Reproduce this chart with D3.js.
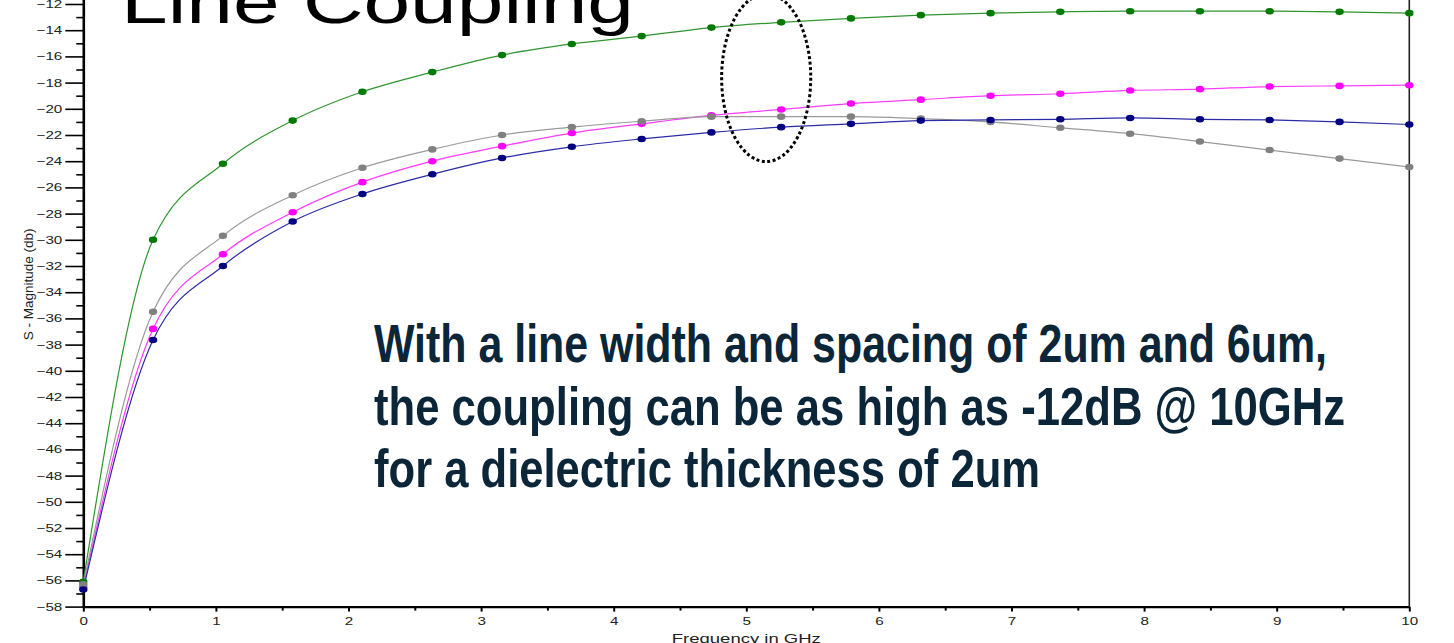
<!DOCTYPE html>
<html>
<head>
<meta charset="utf-8">
<script src="https://cdn.jsdelivr.net/npm/d3@7"></script>
<style>
  html, body { margin: 0; padding: 0; background: #ffffff; overflow: hidden; }
  svg { display: block; }
</style>
</head>
<body>
<svg id="chart" width="1454" height="643"></svg>
<script>
// ---------------- DATA ----------------
const frequencies = [0, 0.526, 1.053, 1.579, 2.105, 2.632, 3.158, 3.684, 4.211, 4.737,
                     5.263, 5.789, 6.316, 6.842, 7.368, 7.895, 8.421, 8.947, 9.474, 10];
const seriesGreen   = [-56.1, -30.0, -24.2, -20.9, -18.7, -17.2, -15.9, -15.05, -14.45, -13.8,
                       -13.4, -13.1, -12.85, -12.7, -12.6, -12.55, -12.55, -12.55, -12.6, -12.7];
const seriesMagenta = [-56.5, -36.8, -31.1, -27.9, -25.6, -24.0, -22.85, -21.85, -21.15, -20.5,
                       -20.05, -19.6, -19.3, -19.0, -18.85, -18.6, -18.5, -18.3, -18.25, -18.2];
const seriesGrey    = [-56.3, -35.5, -29.7, -26.6, -24.5, -23.1, -22.0, -21.4, -20.95, -20.6,
                       -20.6, -20.6, -20.75, -21.0, -21.45, -21.9, -22.5, -23.15, -23.8, -24.45];
const seriesBlue    = [-56.7, -37.65, -32.0, -28.6, -26.5, -25.0, -23.75, -22.9, -22.3, -21.8,
                       -21.4, -21.15, -20.9, -20.85, -20.8, -20.7, -20.8, -20.85, -21.0, -21.2];

const xTickValues  = [0, 1, 2, 3, 4, 5, 6, 7, 8, 9, 10];
const xMinorTicks  = [0.5, 1.5, 2.5, 3.5, 4.5, 5.5, 6.5, 7.5, 8.5, 9.5];
const yTickValues  = [-58, -56, -54, -52, -50, -48, -46, -44, -42, -40, -38, -36, -34, -32,
                      -30, -28, -26, -24, -22, -20, -18, -16, -14, -12];
const yMinorTicks  = [-57, -55, -53, -51, -49, -47, -45, -43, -41, -39, -37, -35, -33, -31,
                      -29, -27, -25, -23, -21, -19, -17, -15, -13, -11];

const titleText = "Line Coupling";
const xAxisTitle = "Frequency in GHz";
const yAxisTitle = "S - Magnitude (db)";
const noteLines = [
  "With a line width and spacing of 2um and 6um,",
  "the coupling can be as high as -12dB @ 10GHz",
  "for a dielectric thickness of 2um"
];
// highlighted region (data units): centre frequency, centre dB, half-width GHz, half-height dB
const highlight = { f: 5.15, db: -17.63, df: 0.336, ddb: 6.4 };

// ---------------- LAYOUT ----------------
const svg = d3.select("#chart");
const x = d3.scaleLinear().domain([0, 10]).range([83.3, 1409.3]);
const y = d3.scaleLinear().domain([-58, -11]).range([606.6, 606.6 - 47 * 13.1]);

const series = [
  { name: "green",   values: seriesGreen,   line: "#2f962f", dot: "#007a00" },
  { name: "magenta", values: seriesMagenta, line: "#ff3cff", dot: "#ff00ff" },
  { name: "grey",    values: seriesGrey,    line: "#9a9a9a", dot: "#808080" },
  { name: "blue",    values: seriesBlue,    line: "#2b2ba6", dot: "#000080" }
];

function stretchText(sel, factor) {
  sel.each(function () {
    const len = this.getComputedTextLength();
    d3.select(this).attr("textLength", len * factor).attr("lengthAdjust", "spacingAndGlyphs");
  });
}

// Title
svg.append("text")
  .attr("x", 121).attr("y", 23)
  .attr("font-family", "Liberation Sans, Arial, sans-serif")
  .attr("font-size", 62)
  .attr("fill", "#000")
  .attr("textLength", 513).attr("lengthAdjust", "spacingAndGlyphs")
  .text(titleText);

// Y axis (major + minor)
const gy = svg.append("g").attr("transform", `translate(${x(0)},0)`);
gy.call(d3.axisLeft(y).tickValues(yTickValues).tickSize(18).tickSizeOuter(0).tickPadding(3));
const gyMinor = svg.append("g").attr("transform", `translate(${x(0)},0)`);
gyMinor.call(d3.axisLeft(y).tickValues(yMinorTicks).tickSize(7).tickSizeOuter(0).tickFormat(""));
gyMinor.select(".domain").remove();
gy.select(".domain").attr("stroke", "#000").attr("stroke-width", 2.6);
gy.selectAll(".tick line").attr("stroke", "#000").attr("stroke-width", 1.6);
gyMinor.selectAll(".tick line").attr("stroke", "#000").attr("stroke-width", 1.6);
gy.selectAll(".tick text")
  .attr("font-family", "Liberation Sans, Arial, sans-serif")
  .attr("font-size", 11).attr("fill", "#222")
  .call(stretchText, 1.38);

// X axis (major + minor)
const gx = svg.append("g").attr("transform", `translate(0,${y(-58)})`);
gx.call(d3.axisBottom(x).tickValues(xTickValues).tickSize(5).tickSizeOuter(0).tickPadding(6)
  .tickFormat(d3.format("d")));
const gxMinor = svg.append("g").attr("transform", `translate(0,${y(-58)})`);
gxMinor.call(d3.axisBottom(x).tickValues(xMinorTicks).tickSize(4).tickSizeOuter(0).tickFormat(""));
gxMinor.select(".domain").remove();
gx.select(".domain").attr("stroke", "#000").attr("stroke-width", 2.2);
gx.selectAll(".tick line").attr("stroke", "#000").attr("stroke-width", 2);
gxMinor.selectAll(".tick line").attr("stroke", "#000").attr("stroke-width", 2);
gx.selectAll(".tick text")
  .attr("font-family", "Liberation Sans, Arial, sans-serif")
  .attr("font-size", 11).attr("fill", "#222")
  .call(stretchText, 1.38);

// Right border of the plot
svg.append("line")
  .attr("x1", x(10)).attr("x2", x(10))
  .attr("y1", y(-11)).attr("y2", y(-58))
  .attr("stroke", "#222").attr("stroke-width", 1.6);

// Axis titles
svg.append("text")
  .attr("transform", `translate(33,${y(-33.4)}) rotate(-90)`)
  .attr("text-anchor", "middle")
  .attr("font-family", "Liberation Sans, Arial, sans-serif")
  .attr("font-size", 13.5).attr("fill", "#222")
  .text(yAxisTitle);

svg.append("text")
  .attr("x", (x(0) + x(10)) / 2).attr("y", 643)
  .attr("text-anchor", "middle")
  .attr("font-family", "Liberation Sans, Arial, sans-serif")
  .attr("font-size", 12).attr("fill", "#222")
  .attr("textLength", 149).attr("lengthAdjust", "spacingAndGlyphs")
  .text(xAxisTitle);

// Lines
const lineGen = d3.line()
  .x((d, i) => x(frequencies[i]))
  .y(d => y(d))
  .curve(d3.curveMonotoneX);

const plot = svg.append("g");
series.forEach(s => {
  plot.append("path")
    .datum(s.values)
    .attr("fill", "none")
    .attr("stroke", s.line)
    .attr("stroke-width", 1.2)
    .attr("d", lineGen);
});
series.forEach(s => {
  plot.append("g").selectAll("ellipse")
    .data(s.values)
    .join("ellipse")
    .attr("cx", (d, i) => x(frequencies[i]))
    .attr("cy", d => y(d))
    .attr("rx", 4.2).attr("ry", 3.3)
    .attr("fill", s.dot);
});

// Dotted highlight ellipse
svg.append("ellipse")
  .attr("cx", x(highlight.f))
  .attr("cy", y(highlight.db))
  .attr("rx", x(highlight.f + highlight.df) - x(highlight.f))
  .attr("ry", y(highlight.db - highlight.ddb) - y(highlight.db))
  .attr("fill", "none")
  .attr("stroke", "#000")
  .attr("stroke-width", 3)
  .attr("stroke-dasharray", "3,2.5");

// Annotation
const noteWidths = [953, 971, 666];
const noteBaselines = [362, 424.5, 487];
svg.append("g").selectAll("text")
  .data(noteLines)
  .join("text")
  .attr("x", 374)
  .attr("y", (d, i) => noteBaselines[i])
  .attr("font-family", "Liberation Sans Narrow, Liberation Sans, Arial, sans-serif")
  .attr("font-weight", "bold")
  .attr("font-size", 53.6)
  .attr("fill", "#0b2539")
  .attr("textLength", (d, i) => noteWidths[i])
  .attr("lengthAdjust", "spacingAndGlyphs")
  .text(d => d);
</script>
</body>
</html>
